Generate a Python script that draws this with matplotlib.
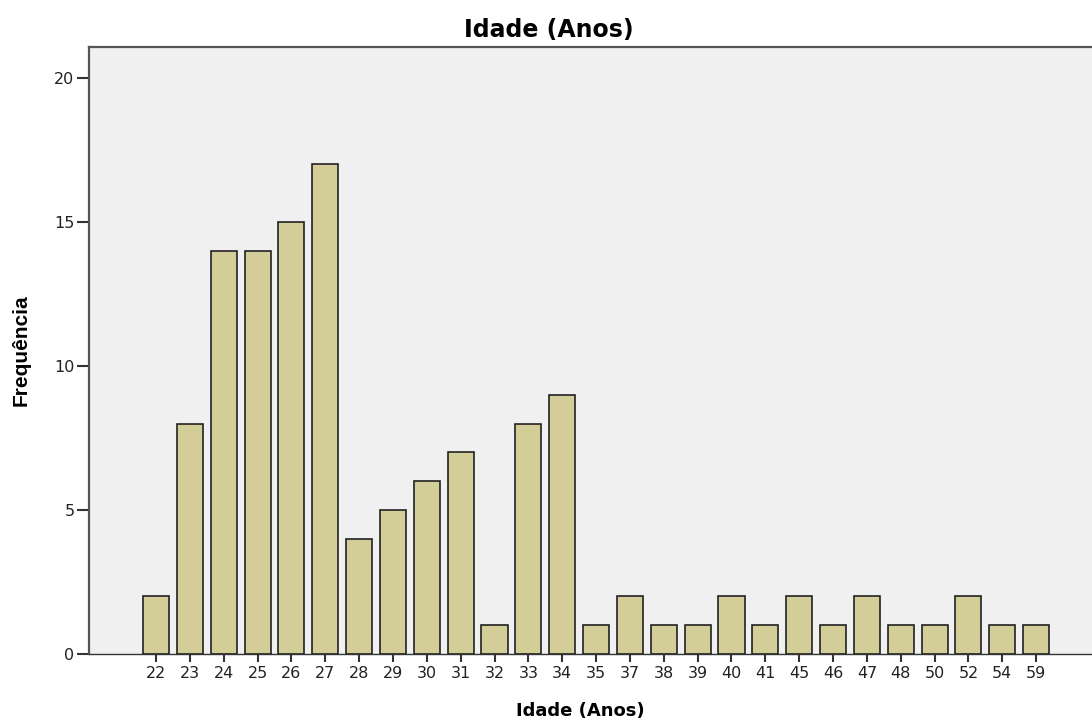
import numpy as np
import matplotlib.pyplot as plt

idades = ['22', '23', '24', '25', '26', '27', '28', '29', '30', '31', '32', '33', '34',
          '35', '37', '38', '39', '40', '41', '45', '46', '47', '48', '50', '52', '54', '59']
freq = [2, 8, 14, 14, 15, 17, 4, 5, 6, 7, 1, 8, 9,
        1, 2, 1, 1, 2, 1, 2, 1, 2, 1, 1, 2, 1, 1]
yticks = [0, 5, 10, 15, 20]

plt.rcParams['font.family'] = ['DejaVu Sans']

fig = plt.figure(figsize=(10.92, 7.2), dpi=100)
ax = fig.add_axes([0.0815, 0.0917, 0.9185, 0.843])
ax.set_facecolor('#f0f0f0')

x = np.arange(len(idades))
ax.bar(x, freq, width=0.77, color='#d3ce97', edgecolor='#222222', linewidth=1.2, zorder=3)

ax.set_xlim(-1.98, 27.65)
ax.set_ylim(0, 21.08)
ax.set_xticks(x)
ax.set_xticklabels(idades, fontsize=11.5, color='#222222')
ax.set_yticks(yticks)
ax.set_yticklabels([str(v) for v in yticks], fontsize=11.5, color='#222222')
ax.tick_params(axis='x', length=6, width=1.5, color='#333333', pad=3)
ax.tick_params(axis='y', length=8.5, width=1.5, color='#333333', pad=2)

for s in ['top', 'left']:
    ax.spines[s].set_color('#555555')
    ax.spines[s].set_linewidth(1.6)
ax.spines['bottom'].set_color('#333333')
ax.spines['bottom'].set_linewidth(1.0)
ax.spines['right'].set_visible(False)

# title centred on the figure, like the original
fig.text(0.503, 0.9486, 'Idade (Anos)', fontsize=17, fontweight='bold',
         ha='center', va='baseline')
ax.set_xlabel('Idade (Anos)', fontsize=13, fontweight='bold')
ax.xaxis.set_label_coords(0.49, -0.079)
ax.xaxis.label.set_va('top')
ax.set_ylabel('Frequência', fontsize=15, fontweight='bold', labelpad=17,
              family=['Liberation Sans', 'DejaVu Sans'])

fig.savefig('out.png', dpi=100)
